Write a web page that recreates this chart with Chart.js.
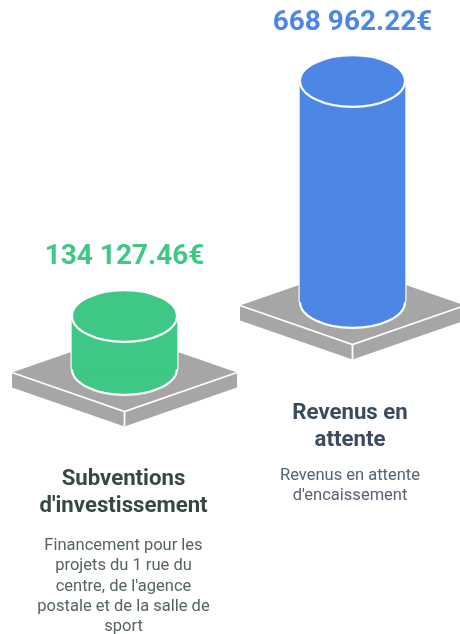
<!DOCTYPE html>
<html>
<head>
<meta charset="utf-8">
<style>
html,body{margin:0;padding:0;background:#fff;width:460px;height:634px;overflow:hidden}
#wrap{position:absolute;left:0;top:0;width:467px;height:634px}
</style>
<script src="https://cdn.jsdelivr.net/npm/chart.js@4/dist/chart.umd.js"></script>
</head>
<body>
<div id="wrap"><canvas id="c" width="467" height="634"></canvas></div>
<script>
const categories = ["Subventions d'investissement", "Revenus en attente"];
const valuesGreen = [134127.46, null];
const valuesBlue = [null, 668962.22];
const valueLabels = ["134 127.46€", "668 962.22€"];
const titleLines = [["Subventions", "d'investissement"], ["Revenus en", "attente"]];
const descLines = [
  ["Financement pour les", "projets du 1 rue du", "centre, de l'agence", "postale et de la salle de", "sport"],
  ["Revenus en attente", "d'encaissement"]
];
const barColors = ["#3FC785", "#4C87E6"];
const titleColors = ["#37493F", "#3C4A5E"];
const descColors = ["#55645C", "#566274"];

const H = 634;
function range(value, basePx, topPx) {
  const u = value / (basePx - topPx);
  return { min: -(H - basePx) * u, max: value + topPx * u };
}
const rGreen = range(valuesGreen[0], 369, 316);
const rBlue = range(valuesBlue[1], 302, 81);

const RX = 52.5, RY = 25.8;
const textPos = [
  { value: 256.5, textDx: -1, title: [479, 506.5], desc: [546, 566, 586.5, 606.5, 626.5] },
  { value: 23, textDx: -2.5, title: [413, 440], desc: [476, 496] }
];

function platform(ctx, cx, cy) {
  const hw = 112.5, hh = 39, t = 15;
  ctx.fillStyle = "#A6A6A6";
  ctx.beginPath();
  ctx.moveTo(cx - hw, cy);
  ctx.lineTo(cx, cy - hh);
  ctx.lineTo(cx + hw, cy);
  ctx.lineTo(cx + hw, cy + t);
  ctx.lineTo(cx, cy + hh + t);
  ctx.lineTo(cx - hw, cy + t);
  ctx.closePath();
  ctx.fill();
  ctx.strokeStyle = "#fff";
  ctx.lineWidth = 1.8;
  ctx.beginPath();
  ctx.moveTo(cx - hw, cy);
  ctx.lineTo(cx, cy + hh);
  ctx.lineTo(cx + hw, cy);
  ctx.moveTo(cx, cy + hh);
  ctx.lineTo(cx, cy + hh + t);
  ctx.stroke();
}

function ell(ctx, x, y, fill) {
  ctx.beginPath();
  ctx.ellipse(x, y, RX, RY, 0, 0, Math.PI * 2);
  ctx.fillStyle = fill;
  ctx.fill();
  ctx.strokeStyle = "#fff";
  ctx.lineWidth = 2.2;
  ctx.stroke();
}

const cylinders = {
  id: "cylinders",
  beforeDatasetsDraw(chart) {
    const ctx = chart.ctx;
    ctx.save();
    chart.data.datasets.forEach((ds, d) => {
      const bar = chart.getDatasetMeta(d).data[d];
      platform(ctx, bar.x, bar.base + 3.5);
      ctx.fillStyle = "#fff";
      ctx.fillRect(bar.x - RX - 1.5, bar.y, 2 * RX + 3, bar.base - bar.y);
      ell(ctx, bar.x, bar.base, barColors[d]);
    });
    ctx.restore();
  },
  afterDatasetsDraw(chart) {
    const ctx = chart.ctx;
    ctx.save();
    chart.data.datasets.forEach((ds, d) => {
      const bar = chart.getDatasetMeta(d).data[d];
      ell(ctx, bar.x, bar.y, barColors[d]);
      ctx.textAlign = "center";
      ctx.textBaseline = "middle";
      ctx.fillStyle = barColors[d];
      ctx.font = "bold 28px Roboto";
      ctx.fillText(valueLabels[d], bar.x, textPos[d].value);
      const tx = bar.x + textPos[d].textDx;
      ctx.fillStyle = titleColors[d];
      ctx.font = "bold 22.2px Roboto";
      titleLines[d].forEach((s, i) => ctx.fillText(s, tx, textPos[d].title[i]));
      ctx.fillStyle = descColors[d];
      ctx.font = "16.5px Roboto";
      descLines[d].forEach((s, i) => ctx.fillText(s, tx, textPos[d].desc[i]));
    });
    ctx.restore();
  }
};

new Chart(document.getElementById("c"), {
  type: "bar",
  data: {
    labels: categories,
    datasets: [
      { label: categories[0], data: valuesGreen, backgroundColor: barColors[0], yAxisID: "y1", barThickness: 2 * RX },
      { label: categories[1], data: valuesBlue, backgroundColor: barColors[1], yAxisID: "y2", barThickness: 2 * RX }
    ]
  },
  options: {
    responsive: false,
    animation: false,
    grouped: false,
    layout: { padding: { left: 10.5, right: 0.5, top: 0, bottom: 0 } },
    plugins: { legend: { display: false }, title: { display: false }, tooltip: { enabled: false } },
    scales: {
      x: { display: false },
      y1: { display: false, min: rGreen.min, max: rGreen.max },
      y2: { display: false, min: rBlue.min, max: rBlue.max }
    }
  },
  plugins: [cylinders]
});
</script>
</body>
</html>
